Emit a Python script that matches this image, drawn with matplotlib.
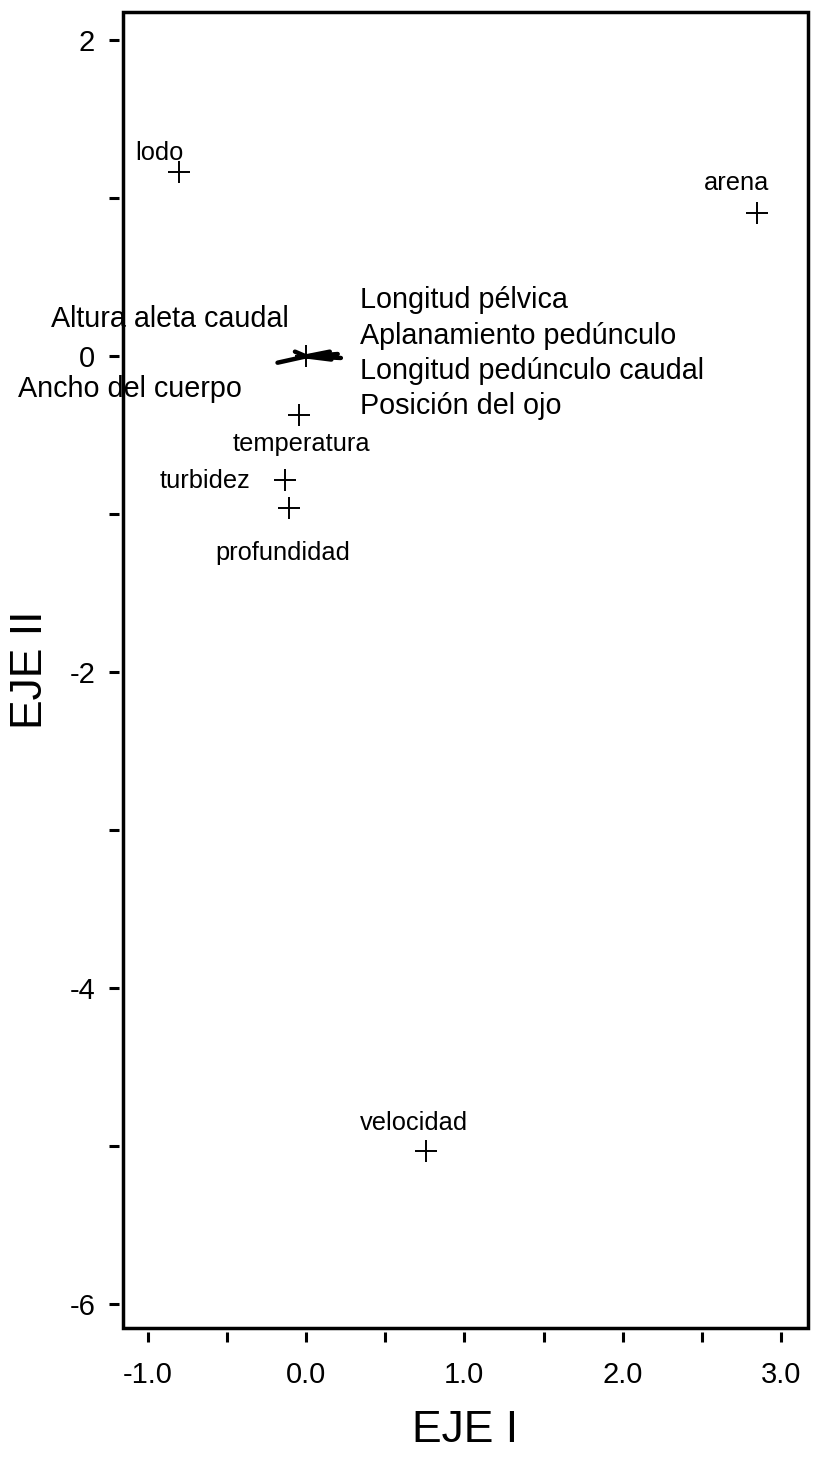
import matplotlib
matplotlib.use("Agg")
import matplotlib.pyplot as plt
from matplotlib.patches import Rectangle

plt.rcParams['font.family'] = ['Liberation Sans', 'DejaVu Sans']

# Environmental variables (points)
env_names = ["lodo", "arena", "temperatura", "turbidez", "profundidad", "velocidad"]
env_x = [-0.80, 2.85, -0.045, -0.135, -0.11, 0.755]
env_y = [1.165, 0.905, -0.37, -0.78, -0.96, -5.03]
env_label_x = [-0.925, 2.72, -0.03, -0.64, -0.15, 0.68]
env_label_y = [1.285, 1.095, -0.557, -0.79, -1.247, -4.85]

# Morphological variables (vectors from origin)
morph_names = ["Longitud pélvica", "Aplanamiento pedúnculo",
               "Longitud pedúnculo caudal", "Posición del ojo",
               "Altura aleta caudal", "Ancho del cuerpo"]
morph_x = [0.15, 0.20, 0.22, 0.16, -0.07, -0.18]
morph_y = [0.03, 0.015, -0.01, -0.02, 0.03, -0.04]
morph_label_x = [0.34, 0.34, 0.34, 0.34, -0.86, -1.115]
morph_label_y = [0.354, 0.127, -0.095, -0.316, 0.234, -0.209]

x_ticks = [-1.0, -0.5, 0.0, 0.5, 1.0, 1.5, 2.0, 2.5, 3.0]
x_ticklabels = ["-1.0", "", "0.0", "", "1.0", "", "2.0", "", "3.0"]
y_ticks = [2, 1, 0, -1, -2, -3, -4, -5, -6]
y_ticklabels = ["2", "", "0", "", "-2", "", "-4", "", "-6"]

fig = plt.figure(figsize=(8.13, 14.6), dpi=100)
ax = fig.add_axes([0.1513, 0.0904, 0.8425, 0.9014])

# origin marker
ax.plot([0], [0], marker='+', color='black', markersize=16, markeredgewidth=1.4, linestyle='none')

for mx, my in zip(morph_x, morph_y):
    ax.plot([0, mx], [0, my], color='black', linewidth=3.2, solid_capstyle='round')

ax.plot(env_x, env_y, marker='+', color='black', markersize=16,
        markeredgewidth=1.4, linestyle='none')

for name, lx, ly in zip(env_names, env_label_x, env_label_y):
    ax.text(lx, ly, name, fontsize=18.3, ha='center', va='center')

for i, (name, lx, ly) in enumerate(zip(morph_names, morph_label_x, morph_label_y)):
    ha = 'left' if i < 4 else 'center'
    ax.text(lx, ly, name, fontsize=20.7, ha=ha, va='center', clip_on=False)

ax.set_xlim(-1.156, 3.17)
ax.set_ylim(-6.15, 2.18)
ax.set_xticks(x_ticks)
ax.set_xticklabels(x_ticklabels)
ax.set_yticks(y_ticks)
ax.set_yticklabels(y_ticklabels)

for s in ax.spines.values():
    s.set_visible(False)
ax.spines['left'].set_position(('outward', 3))
ax.spines['bottom'].set_position(('outward', 3))
ax.add_patch(Rectangle((0, 0), 1, 1, transform=ax.transAxes, fill=False,
                       linewidth=2.5, edgecolor='black', clip_on=False, zorder=5))
ax.tick_params(axis='both', direction='out', length=7, width=2.2, labelsize=21,
               top=False, right=False)
ax.tick_params(axis='x', pad=14)
ax.tick_params(axis='y', pad=10)

ax.set_xlabel("EJE I", fontsize=32, labelpad=15)
ax.set_ylabel("EJE II", fontsize=32, labelpad=13)

fig.savefig("out.png", dpi=100)
